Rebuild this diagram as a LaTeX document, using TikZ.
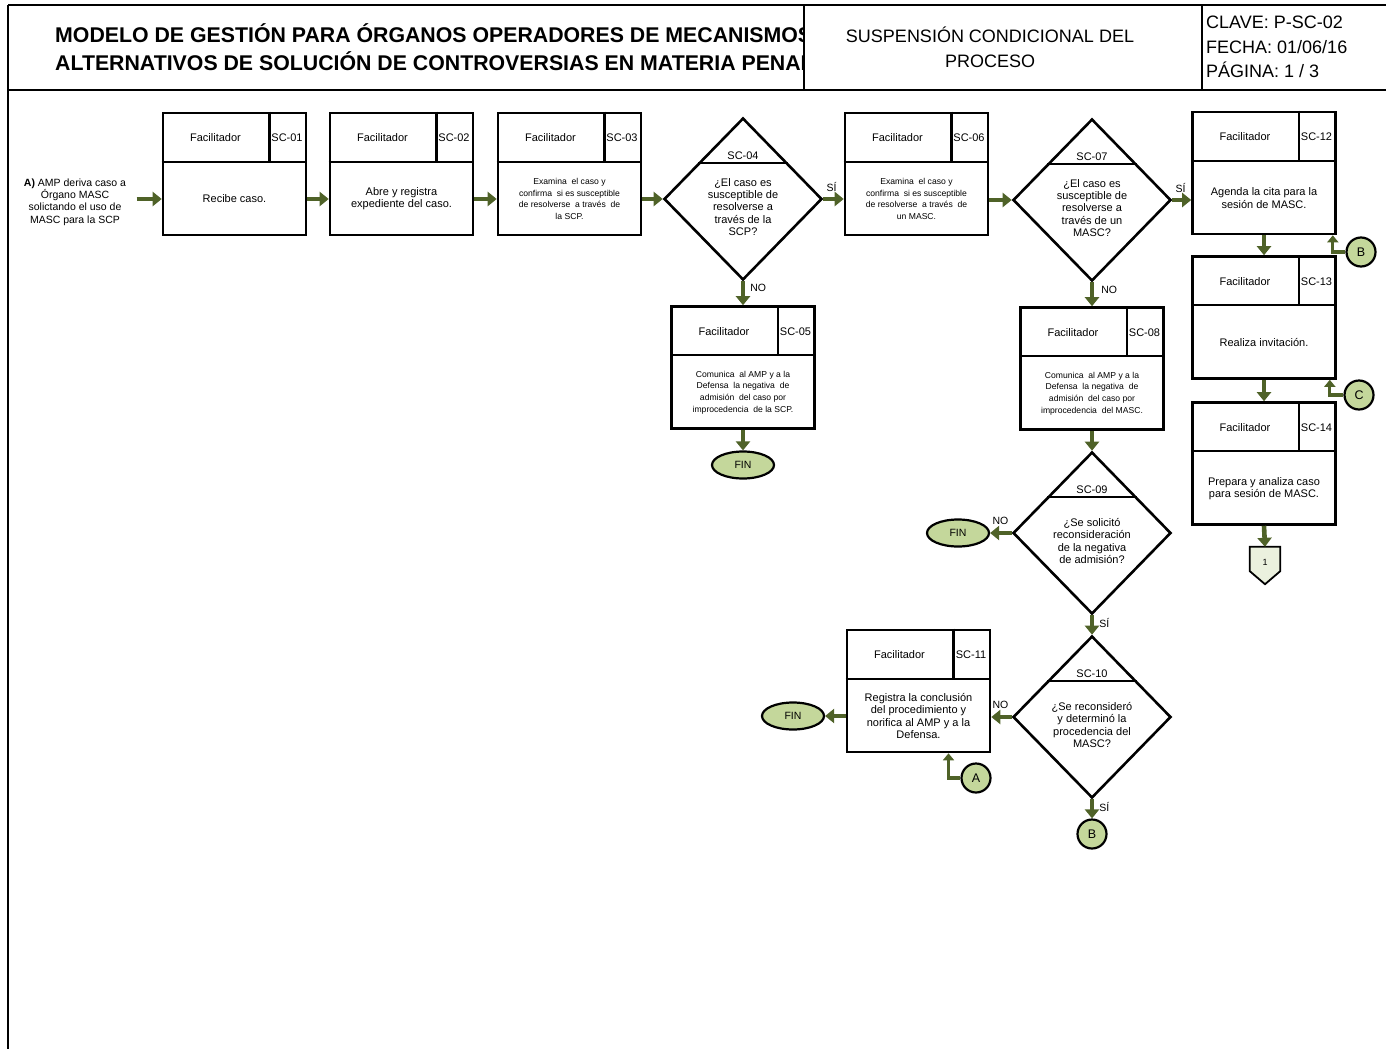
\documentclass[tikz,border=0pt]{standalone}
\usepackage{fontspec}
\setmainfont{Liberation Sans}
\usetikzlibrary{shapes.geometric,arrows.meta,calc}

\definecolor{verde}{RGB}{79,98,40}
\definecolor{verdeclaro}{RGB}{196,215,155}
\definecolor{verdepalido}{RGB}{235,241,222}

\tikzset{
  marco/.style={line width=2.4pt},
  caja/.style={draw, line width=2.6pt, minimum width=143pt, minimum height=122pt, inner sep=0pt},
  rombo/.style={draw, diamond, line width=2.6pt, inner sep=0pt},
  rotulo/.style={font=\fontsize{11}{13}\selectfont},
  texto/.style={align=center, font=\fontsize{11}{12.3}\selectfont},
  chico/.style={align=center, font=\fontsize{8.6}{11.6}\selectfont},
  fin/.style={ellipse, draw, line width=2.2pt, fill=verdeclaro, minimum width=62pt, minimum height=27pt, font=\fontsize{10.5}{12}\selectfont},
  conector/.style={circle, draw, line width=2.2pt, fill=verdeclaro, minimum size=29pt, inner sep=0pt, font=\fontsize{12.5}{14}\selectfont},
  flecha/.style={draw=verde, line width=4.6pt, -{Triangle[width=14pt,length=9pt]}},
  enlace/.style={draw=verde, line width=3.2pt, -{Triangle[width=11pt,length=7pt]}},
  etiqueta/.style={font=\fontsize{10.5}{12}\selectfont, inner sep=1pt},
}

% caja de actividad: estilo del texto, nombre, centro, clave, texto
\newcommand{\actividad}[5][texto]{%
  \node[caja] (#2) at (#3) {};
  \draw[marco] ([yshift=-50pt]#2.north west) -- ([yshift=-50pt]#2.north east);
  \draw[marco] ([xshift=-38pt]#2.north east) -- ([xshift=-38pt,yshift=-50pt]#2.north east);
  \node[rotulo] (#2-rol) at ([xshift=-19pt,yshift=36pt]#2.center) {Facilitador};
  \node[rotulo] (#2-cod) at ([xshift=52.5pt,yshift=36pt]#2.center) {#4};
  \node[#1] (#2-txt) at ([yshift=-25pt]#2.center) {#5};
}

% rombo de decision: nombre, centro, clave, pregunta
\newcommand{\decision}[4]{%
  \node[rombo, minimum width=158pt, minimum height=162pt] (#1) at (#2) {};
  \draw[marco] ($(#1.north)!0.56!(#1.west)$) -- ($(#1.north)!0.56!(#1.east)$);
  \node[rotulo] (#1-cod) at ($(#1.north)!0.47!(#1.center)$) {#3};
  \node[texto] (#1-txt) at ([yshift=-8pt]#1.center) {#4};
}

\begin{document}
\begin{tikzpicture}[x=1pt,y=-1pt]
  \useasboundingbox (0,0) rectangle (1386,1049);

  % encabezado
  \draw[marco] (8,5) -- (1386,5);
  \draw[marco] (8,90) -- (1386,90);
  \draw[marco] (8,5) -- (8,1049);
  \draw[marco] (804,5) -- (804,90);
  \draw[marco] (1202,5) -- (1202,90);
  \begin{scope}
    \clip (8,5) rectangle (804,90);
    \node[anchor=west, align=left, inner sep=0pt, font=\fontsize{21.3}{28}\selectfont\bfseries] (titulo) at (55,47)
      {MODELO DE GESTIÓN PARA ÓRGANOS OPERADORES DE MECANISMOS\\ALTERNATIVOS DE SOLUCIÓN DE CONTROVERSIAS EN MATERIA PENAL};
  \end{scope}
  \node[align=center, font=\fontsize{18}{25}\selectfont] (proceso) at (990,47) {SUSPENSIÓN CONDICIONAL DEL\\PROCESO};
  \node[anchor=west, align=left, inner sep=0pt, font=\fontsize{18}{24.5}\selectfont] (clave) at (1206,47)
    {CLAVE: P-SC-02\\FECHA: 01/06/16\\PÁGINA: 1 / 3};

  % inicio
  \node[texto, font=\fontsize{10.5}{12.3}\selectfont] (inicio) at (75,202)
    {\textbf{A)} AMP deriva caso a\\Órgano MASC\\solictando el uso de\\MASC para la SCP};

  % actividades
  \actividad{sc01}{234.5,174}{SC-01}{Recibe caso.}
  \actividad{sc02}{401.5,174}{SC-02}{Abre y registra\\expediente del caso.}
  \actividad[chico]{sc03}{569.5,174}{SC-03}{Examina \ el caso y\\confirma \ si es susceptible\\de resolverse \ a través \ de\\la SCP.}
  \decision{sc04}{743,199}{SC-04}{¿El caso es\\susceptible de\\resolverse a\\través de la\\SCP?}
  \actividad[chico]{sc05}{743,367.5}{SC-05}{Comunica \ al AMP y a la\\Defensa \ la negativa \ de\\admisión \ del caso por\\improcedencia \ de la SCP.}
  \node[fin] (fin1) at (743,465) {FIN};
  \actividad[chico]{sc06}{916.5,174}{SC-06}{Examina \ el caso y\\confirma \ si es susceptible\\de resolverse \ a través \ de\\un MASC.}
  \decision{sc07}{1092,200}{SC-07}{¿El caso es\\susceptible de\\resolverse a\\través de un\\MASC?}
  \actividad[chico]{sc08}{1092,368.5}{SC-08}{Comunica \ al AMP y a la\\Defensa \ la negativa \ de\\admisión \ del caso por\\improcedencia \ del MASC.}
  \decision{sc09}{1092,533}{SC-09}{¿Se solicitó\\reconsideración\\de la negativa\\de admisión?}
  \node[fin] (fin2) at (958,533) {FIN};
  \decision{sc10}{1092,717}{SC-10}{¿Se reconsideró\\y determinó la\\procedencia del\\MASC?}
  \actividad{sc11}{918.5,691}{SC-11}{Registra la conclusión\\del procedimiento y\\norifica al AMP y a la\\Defensa.}
  \node[fin] (fin3) at (793,716) {FIN};
  \actividad{sc12}{1264,173}{SC-12}{Agenda la cita para la\\sesión de MASC.}
  \actividad{sc13}{1264,317.5}{SC-13}{Realiza invitación.}
  \actividad{sc14}{1264,463.5}{SC-14}{Prepara y analiza caso\\para sesión de MASC.}

  % conectores
  \node[conector] (a) at (976,778) {A};
  \node[conector] (b1) at (1361,252) {B};
  \node[conector] (b2) at (1092,834) {B};
  \node[conector] (c) at (1359,395) {C};
  \node[minimum width=30pt, minimum height=24pt, inner sep=0pt] (pag1) at (1265,559) {};
  \filldraw[fill=verdepalido, line width=1.8pt] (pag1.north west) -- (pag1.north east) -- (pag1.south east)
    -- ([yshift=-13pt]pag1.south) -- (pag1.south west) -- cycle;
  \node[font=\fontsize{9}{10}\selectfont] at ([yshift=-3pt]pag1) {1};

  % flujo
  \draw[flecha] ([xshift=7pt]inicio.east |- sc01-txt) -- (sc01.west |- sc01-txt);
  \draw[flecha] (sc01.east |- sc01-txt) -- (sc02.west |- sc01-txt);
  \draw[flecha] (sc02.east |- sc02-txt) -- (sc03.west |- sc02-txt);
  \draw[flecha] (sc03.east |- sc04.west) -- (sc04.west);
  \draw[flecha] (sc04.east) -- (sc06.west |- sc04.east)
    node[etiqueta, pos=0, anchor=south west, yshift=4pt] {SÍ};
  \draw[flecha] (sc04.south) -- (sc05.north)
    node[etiqueta, pos=0, anchor=north west, xshift=4pt] {NO};
  \draw[flecha] (sc05.south) -- (fin1.north);
  \draw[flecha] (sc06.east |- sc07.west) -- (sc07.west);
  \draw[flecha] (sc07.east) -- (sc12.west |- sc07.east)
    node[etiqueta, pos=0, anchor=south west, yshift=4pt] {SÍ};
  \draw[flecha] (sc07.south) -- (sc08.north)
    node[etiqueta, pos=0, anchor=north west, xshift=6pt, yshift=-1pt] {NO};
  \draw[flecha] (sc08.south) -- (sc09.north);
  \draw[flecha] (sc09.west) -- (fin2.east)
    node[etiqueta, pos=0, anchor=south east, yshift=5pt] {NO};
  \draw[flecha] (sc09.south) -- (sc10.north)
    node[etiqueta, pos=0, anchor=north west, xshift=4pt] {SÍ};
  \draw[flecha] (sc10.west) -- (sc11.east |- sc10.west)
    node[etiqueta, pos=0, anchor=south east, yshift=5pt] {NO};
  \draw[flecha] (sc11.west |- fin3) -- (fin3.east);
  \draw[flecha] (sc10.south) -- (b2.north)
    node[etiqueta, pos=0, anchor=north west, xshift=4pt] {SÍ};
  \draw[flecha] (sc12.south) -- (sc13.north);
  \draw[flecha] (sc13.south) -- (sc14.north);
  \draw[flecha] (sc14.south) -- (pag1.north);
  \draw[enlace] (b1.west) -| ([xshift=-4pt]sc12.south east);
  \draw[enlace] (c.west) -| ([xshift=-7pt]sc13.south east);
  \draw[enlace] (a.west) -| ([xshift=30pt]sc11.south);
\end{tikzpicture}
\end{document}
